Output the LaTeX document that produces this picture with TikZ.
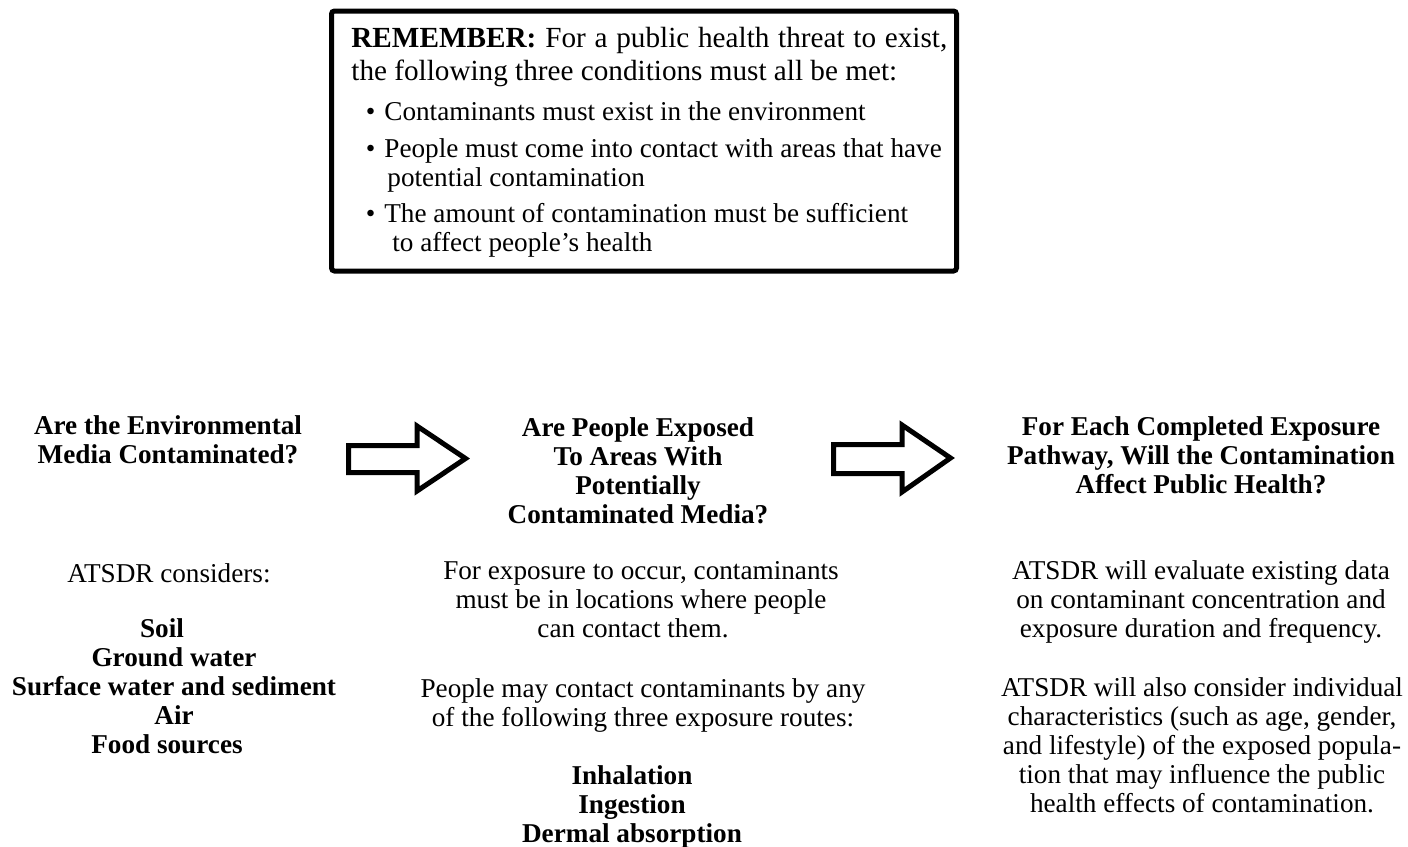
\documentclass[tikz,border=0pt]{standalone}
\usepackage{fontspec}
\setmainfont{Liberation Serif}
\newcommand\tstrut{\rule{0pt}{11pt}}
\begin{document}
\begin{tikzpicture}[x=0.5pt,y=-0.5pt,
  txt/.style={inner sep=0pt, anchor=north, align=center, font=\fontsize{13.6}{14.5}\selectfont},
  hd/.style={txt, font=\fontsize{13.6}{14.5}\selectfont\bfseries},
  boxtxt/.style={inner sep=0pt, anchor=north west, align=left, font=\fontsize{13.6}{14.3}\selectfont},
  blockarrow/.style={draw=black, line width=2.5pt, fill=white, line join=miter},
  remframe/.style={draw=black, line width=2.5pt, rounded corners=1.5pt}]
\useasboundingbox (0,0) rectangle (1408,846);
\fill[white] (0,0) rectangle (1408,846);

% REMEMBER box
\draw[remframe] (331.5,11) rectangle (956.5,271);
\node[inner sep=0pt, anchor=north west, align=left, font=\fontsize{14.6}{16.5}\selectfont] (hdr) at (351,25)
  {\tstrut\textbf{REMEMBER:}\hspace{4.5pt}\hbox to 201pt{For a public health threat to exist,}\\the following three conditions must all be met:};
\node[boxtxt] (b1) at (384,98) {\tstrut\llap{•\hspace{4.5pt}}Contaminants must exist in the environment};
\node[boxtxt] (b2) at (384,135) {\tstrut\llap{•\hspace{4.5pt}}People must come into contact with areas that have\\\hspace*{1.5pt}potential contamination};
\node[boxtxt] (b3) at (384,200) {\tstrut\llap{•\hspace{4.5pt}}The amount of contamination must be sufficient\\\hspace*{4pt}to affect people’s health};

% Column 1
\node[hd] (h1) at (168,412) {\tstrut Are the Environmental\\Media Contaminated?};
\node[txt] (t1) at (169,560) {\tstrut ATSDR considers:};
\node[hd] (l1) at (174,615) {\tstrut Soil\hspace*{12pt}\\Ground water\hspace*{7pt}\\Surface water and sediment\\Air\hspace*{12pt}\\Food sources\hspace*{7pt}};

% Column 2
\node[hd] (h2) at (638,414) {\tstrut Are People Exposed\\To Areas With\\Potentially\\Contaminated Media?};
\node[txt] (t2a) at (641,557) {\tstrut For exposure to occur, contaminants\\must be in locations where people\\can contact them.\hspace*{8pt}};
\node[txt] (t2b) at (643,675) {\tstrut People may contact contaminants by any\\of the following three exposure routes:};
\node[hd] (l2) at (632,762) {\tstrut Inhalation\\Ingestion\\Dermal absorption};

% Column 3
\node[hd] (h3) at (1201,413) {\tstrut For Each Completed Exposure\\Pathway, Will the Contamination\\Affect Public Health?};
\node[txt] (t3a) at (1201,557) {\tstrut ATSDR will evaluate existing data\\on contaminant concentration and\\exposure duration and frequency.};
\node[txt] (t3b) at (1202,674) {\tstrut ATSDR will also consider individual\\characteristics (such as age, gender,\\and lifestyle) of the exposed popula-\\tion that may influence the public\\health effects of contamination.};

% Block arrows
\draw[blockarrow] (348.5,445.5) -- (417,445.5) -- (417,426) -- (465.5,458.5) -- (417,491) -- (417,472.5) -- (348.5,472.5) -- cycle;
\draw[blockarrow] (833.5,444.5) -- (902,444.5) -- (902,425) -- (950.5,458) -- (902,492) -- (902,473.5) -- (833.5,473.5) -- cycle;
\end{tikzpicture}
\end{document}
